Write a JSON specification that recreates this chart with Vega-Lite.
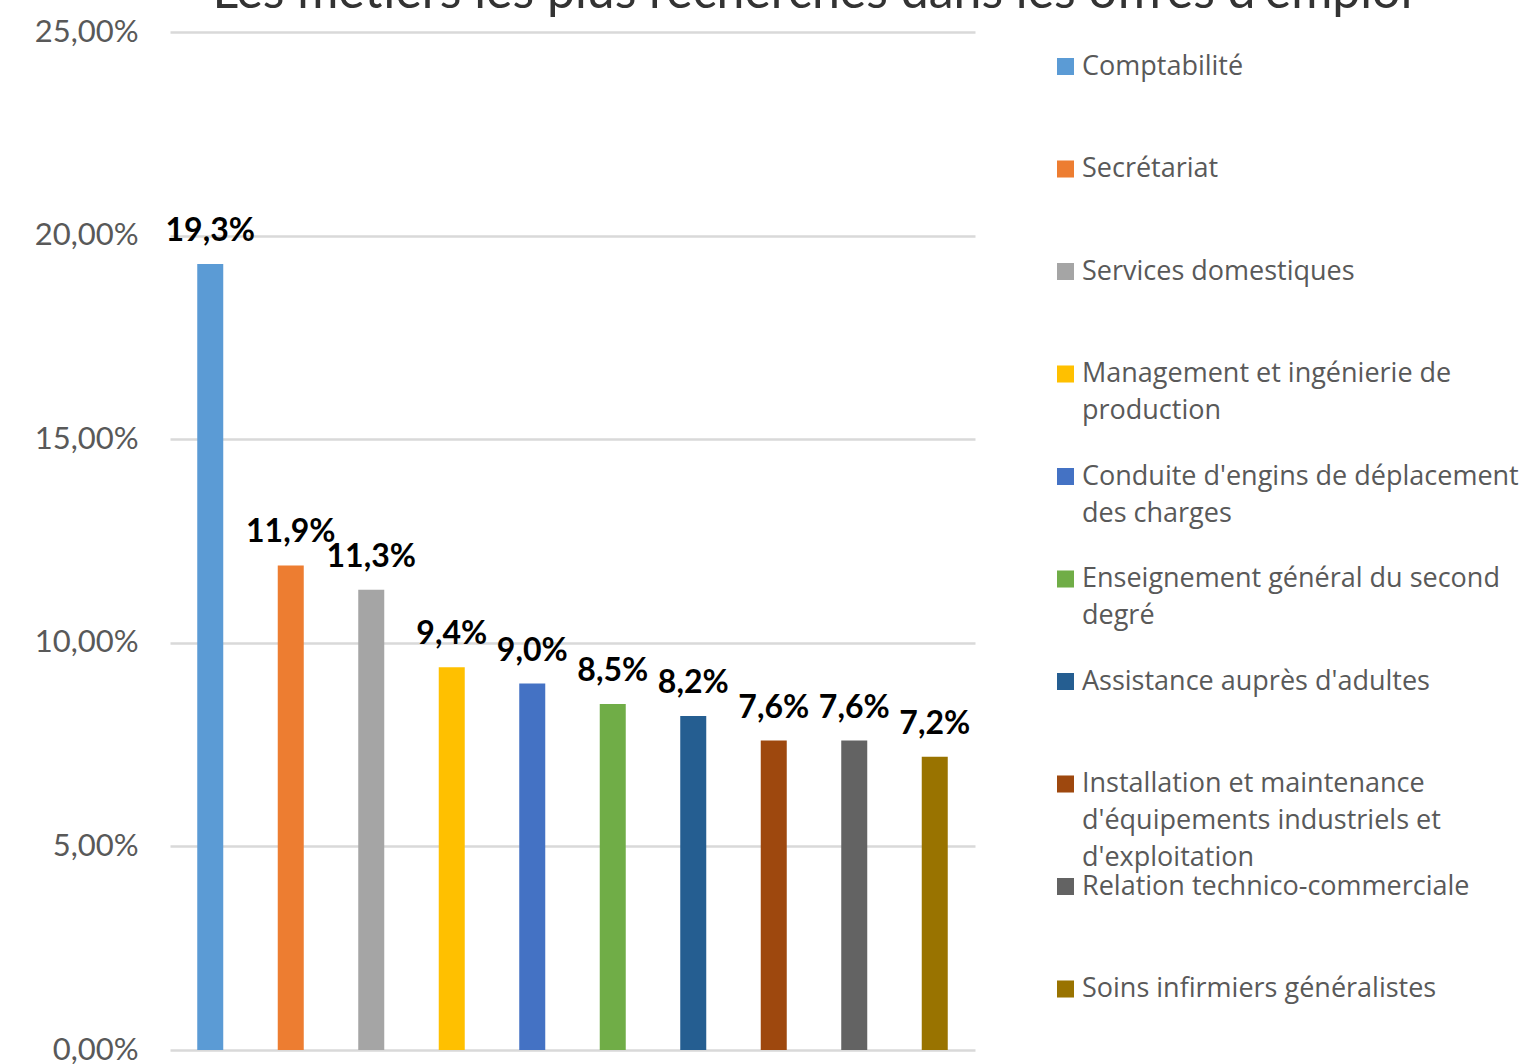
{
  "$schema": "https://vega.github.io/schema/vega-lite/v6.json",
  "autosize": {"type": "none"},
  "padding": {"left": 170, "top": 32, "right": 548, "bottom": 14},
  "width": 805,
  "height": 1018,
  "background": "white",
  "config": {
    "locale": {"number": {"decimal": ",", "thousands": " ", "grouping": [3], "currency": ["", " €"]}},
    "font": "Lato",
    "view": {"stroke": null},
    "style": {"guide-label": {"lineHeight": 37}}
  },
  "title": {
    "text": "Les métiers les plus recherchés dans les offres d'emploi",
    "fontSize": 50,
    "font": "Lato",
    "fontWeight": "normal",
    "color": "#333333",
    "anchor": "middle",
    "frame": "group",
    "dx": 240,
    "baseline": "alphabetic",
    "offset": -42
  },
  "data": {
    "values": [
      {"metier": "Comptabilité", "part": 0.193},
      {"metier": "Secrétariat", "part": 0.119},
      {"metier": "Services domestiques", "part": 0.113},
      {"metier": "Management et ingénierie de production", "part": 0.094},
      {"metier": "Conduite d'engins de déplacement des charges", "part": 0.090},
      {"metier": "Enseignement général du second degré", "part": 0.085},
      {"metier": "Assistance auprès d'adultes", "part": 0.082},
      {"metier": "Installation et maintenance d'équipements industriels et d'exploitation", "part": 0.076},
      {"metier": "Relation technico-commerciale", "part": 0.076},
      {"metier": "Soins infirmiers généralistes", "part": 0.072}
    ]
  },
  "encoding": {
    "x": {
      "field": "metier",
      "type": "nominal",
      "sort": null,
      "axis": null,
      "scale": {"paddingInner": 0.677, "paddingOuter": 0.3385}
    },
    "y": {
      "field": "part",
      "type": "quantitative",
      "scale": {"domain": [0, 0.25]},
      "axis": {
        "title": null,
        "format": ".2%",
        "values": [0, 0.05, 0.1, 0.15, 0.2, 0.25],
        "domain": false,
        "ticks": false,
        "labelFontSize": 31,
        "labelColor": "#595959",
        "labelPadding": 32,
        "gridColor": "#D9D9D9",
        "gridWidth": 2.5
      }
    }
  },
  "layer": [
    {
      "mark": {"type": "bar"},
      "encoding": {
        "color": {
          "field": "metier",
          "type": "nominal",
          "sort": null,
          "scale": {
            "range": ["#5B9BD5", "#ED7D31", "#A5A5A5", "#FFC000", "#4472C4", "#70AD47", "#255E91", "#9E480E", "#636363", "#997300"]
          },
          "legend": {
            "title": null,
            "orient": "none",
            "legendX": 882,
            "legendY": 21,
            "direction": "vertical",
            "columns": 1,
            "gridAlign": "all",
            "rowPadding": 0.5,
            "symbolType": "square",
            "symbolSize": 290,
            "symbolStrokeWidth": 0,
            "labelFont": "Open Sans",
            "labelFontSize": 27,
            "labelColor": "#595959",
            "labelBaseline": "middle",
            "labelOffset": 3,
            "labelLimit": 500,
            "labelExpr": "datum.label == 'Management et ingénierie de production' ? ['Management et ingénierie de', 'production'] : datum.label == \"Conduite d'engins de déplacement des charges\" ? [\"Conduite d'engins de déplacement\", 'des charges'] : datum.label == 'Enseignement général du second degré' ? ['Enseignement général du second', 'degré'] : datum.label == \"Installation et maintenance d'équipements industriels et d'exploitation\" ? ['Installation et maintenance', \"d'équipements industriels et\", \"d'exploitation\"] : datum.label"
          }
        }
      }
    },
    {
      "mark": {"type": "text", "baseline": "middle", "dy": -33, "fontSize": 32, "fontWeight": "bold", "color": "#000000"},
      "encoding": {
        "text": {"field": "part", "type": "quantitative", "format": ".1%"}
      }
    }
  ]
}
